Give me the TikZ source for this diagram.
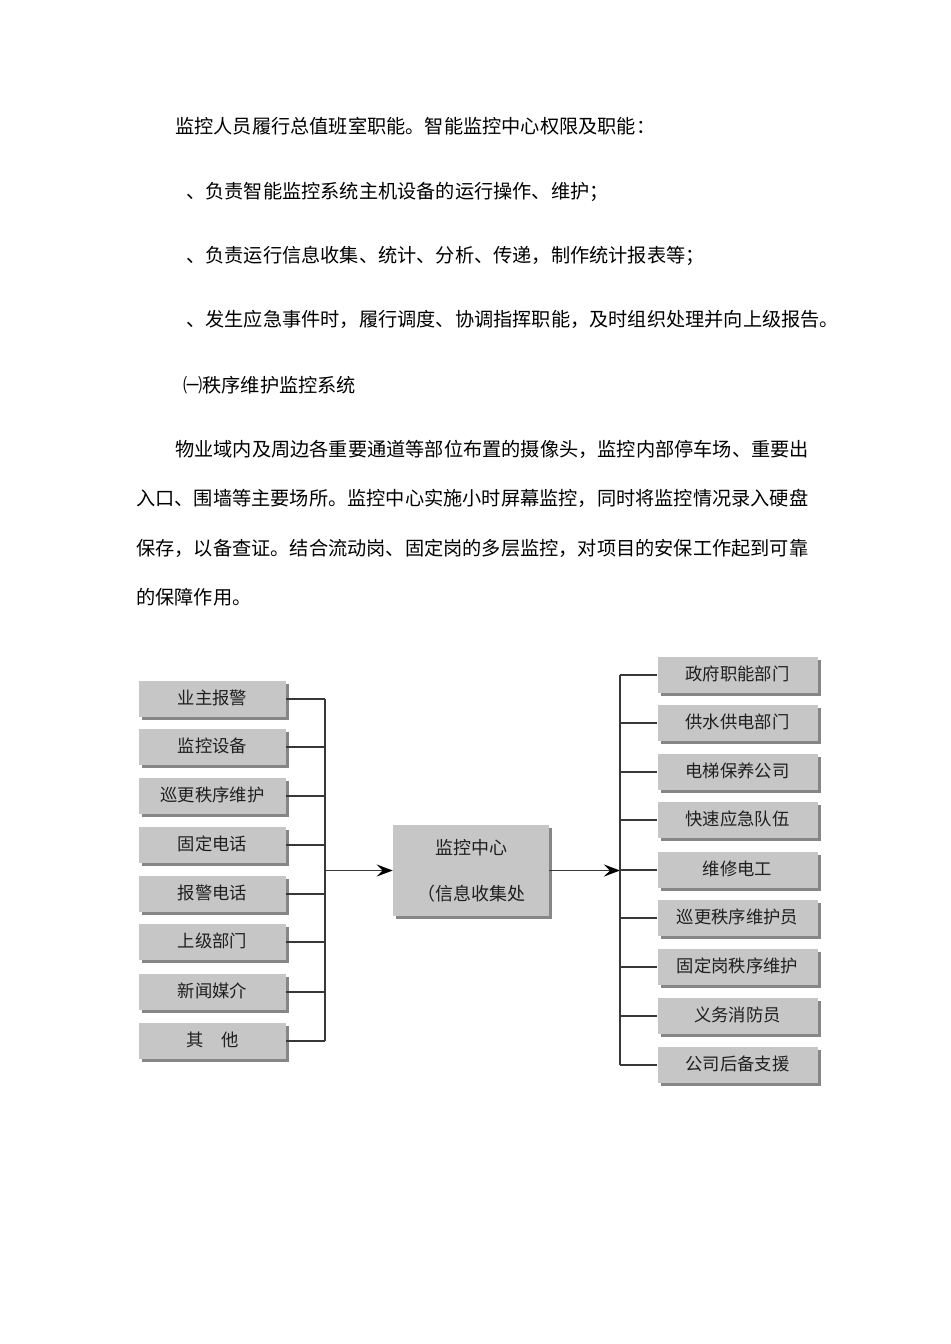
\documentclass[tikz,border=0pt]{standalone}
\usepackage{fontspec}
\setmainfont{Noto Sans CJK SC}
\usetikzlibrary{arrows.meta,shadows}

\tikzset{
  para/.style={anchor=west, inner sep=0pt, font=\fontsize{14.4pt}{17pt}\selectfont,
    text height=0.88em, text depth=0.12em},
  srcbox/.style={fill=gray!45, inner sep=0pt, minimum width=110pt, minimum height=26.5pt,
    font=\fontsize{13pt}{15pt}\selectfont, text=black!88, text height=0.88em, text depth=0.12em,
    drop shadow={shadow xshift=2.3pt, shadow yshift=-2.3pt, fill=gray!95, opacity=1}},
  dstbox/.style={srcbox, minimum width=120pt},
  hubbox/.style={srcbox, minimum width=117pt, minimum height=68pt, align=center,
    text height=, text depth=, font=\fontsize{13.5pt}{34.5pt}\selectfont},
  wire/.style={draw=black!78, line width=1.2pt}
}

\begin{document}
\begin{tikzpicture}[x=0.75pt, y=-0.75pt, >={Stealth[length=12pt,width=9pt,inset=4.5pt,color=black]}]
        \useasboundingbox (0,0) rectangle (950,1344);

        % text above the chart
        \node[para] (t1) at (175,128) {监控人员履行总值班室职能。智能监控中心权限及职能：};
        \node[para] (t2) at (186,193) {、负责智能监控系统主机设备的运行操作、维护；};
        \node[para] (t3) at (186,257) {、负责运行信息收集、统计、分析、传递，制作统计报表等；};
        \node[para] (t4) at (186,321) {、发生应急事件时，履行调度、协调指挥职能，及时组织处理并向上级报告。};
        \node[para] (t5) at (183,387) {㈠秩序维护监控系统};
        \node[para] (t6) at (175,451) {物业域内及周边各重要通道等部位布置的摄像头，监控内部停车场、重要出};
        \node[para] (t7) at (136,500) {入口、围墙等主要场所。监控中心实施小时屏幕监控，同时将监控情况录入硬盘};
        \node[para] (t8) at (136,550) {保存，以备查证。结合流动岗、固定岗的多层监控，对项目的安保工作起到可靠};
        \node[para] (t9) at (136,599) {的保障作用。};

        % sources
        \node[srcbox] (l1) at (212.5,699) {业主报警};
        \node[srcbox] (l2) at (212.5,747) {监控设备};
        \node[srcbox] (l3) at (212.5,796) {巡更秩序维护};
        \node[srcbox] (l4) at (212.5,845) {固定电话};
        \node[srcbox] (l5) at (212.5,894) {报警电话};
        \node[srcbox] (l6) at (212.5,942) {上级部门};
        \node[srcbox] (l7) at (212.5,992) {新闻媒介};
        \node[srcbox] (l8) at (212.5,1041) {其　他};

        % centre
        \node[hubbox] (hub) at (471,870.5) {监控中心\\（信息收集处};

        % receivers
        \node[dstbox] (r1) at (737.5,675) {政府职能部门};
        \node[dstbox] (r2) at (737.5,723) {供水供电部门};
        \node[dstbox] (r3) at (737.5,772) {电梯保养公司};
        \node[dstbox] (r4) at (737.5,820) {快速应急队伍};
        \node[dstbox] (r5) at (737.5,870) {维修电工};
        \node[dstbox] (r6) at (737.5,918) {巡更秩序维护员};
        \node[dstbox] (r7) at (737.5,967) {固定岗秩序维护};
        \node[dstbox] (r8) at (737.5,1016) {义务消防员};
        \node[dstbox] (r9) at (737.5,1065) {公司后备支援};

        \coordinate (lbus) at (325,870.5);
        \coordinate (rbus) at (620,870.5);

        % left bus
        \draw[wire] (l1.east) -- (l1.east -| lbus);
        \draw[wire] (l2.east) -- (l2.east -| lbus);
        \draw[wire] (l3.east) -- (l3.east -| lbus);
        \draw[wire] (l4.east) -- (l4.east -| lbus);
        \draw[wire] (l5.east) -- (l5.east -| lbus);
        \draw[wire] (l6.east) -- (l6.east -| lbus);
        \draw[wire] (l7.east) -- (l7.east -| lbus);
        \draw[wire] (l8.east) -- (l8.east -| lbus);
        \draw[wire] (l1.east -| lbus) -- (l8.east -| lbus);
        \draw[wire,->] (lbus) -- (hub.west);

        % right bus
        \draw[wire,->] (hub.east) -- (rbus);
        \draw[wire] (r1.west -| rbus) -- (r9.west -| rbus);
        \draw[wire] (r1.west -| rbus) -- (r1.west);
        \draw[wire] (r2.west -| rbus) -- (r2.west);
        \draw[wire] (r3.west -| rbus) -- (r3.west);
        \draw[wire] (r4.west -| rbus) -- (r4.west);
        \draw[wire] (r5.west -| rbus) -- (r5.west);
        \draw[wire] (r6.west -| rbus) -- (r6.west);
        \draw[wire] (r7.west -| rbus) -- (r7.west);
        \draw[wire] (r8.west -| rbus) -- (r8.west);
        \draw[wire] (r9.west -| rbus) -- (r9.west);

    \end{tikzpicture}
\end{document}
